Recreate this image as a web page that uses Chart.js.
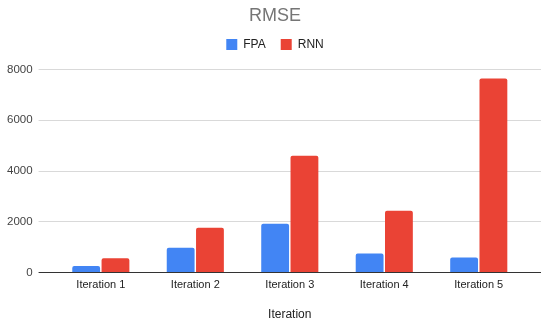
<!DOCTYPE html>
<html>
<head>
<meta charset="utf-8">
<script src="https://cdn.jsdelivr.net/npm/chart.js@4"></script>
<style>
  html, body { margin: 0; padding: 0; background: #fff; }
  #wrap { width: 550px; height: 326px; }
</style>
</head>
<body>
<div id="wrap"><canvas id="rmseChart"></canvas></div>
<script>
// Data
const iterations = ['Iteration 1', 'Iteration 2', 'Iteration 3', 'Iteration 4', 'Iteration 5'];
const fpaValues = [250, 970, 1920, 750, 590];
const rnnValues = [560, 1760, 4600, 2430, 7650];
const yTicks = [0, 2000, 4000, 6000, 8000];

const fontFamily = 'Arial, "Liberation Sans", sans-serif';
const gridColor = ctx => (ctx.tick && ctx.tick.value === 0) ? '#333333' : '#d9d9d9';

// push the plot area a little below the legend
const legendGap = {
    id: 'legendGap',
    beforeInit(chart) {
        const fit = chart.legend.fit;
        chart.legend.fit = function() {
            fit.bind(chart.legend)();
            this.height += 9;
        };
    }
};

const ctx = document.getElementById('rmseChart').getContext('2d');
new Chart(ctx, {
    type: 'bar',
    data: {
        labels: iterations,
        datasets: [{
            label: 'FPA',
            data: fpaValues,
            backgroundColor: '#4285f4',
            borderRadius: 2,
            borderSkipped: 'bottom',
            categoryPercentage: 0.62,
            barPercentage: 0.95
        }, {
            label: 'RNN',
            data: rnnValues,
            backgroundColor: '#ea4335',
            borderRadius: 2,
            borderSkipped: 'bottom',
            categoryPercentage: 0.62,
            barPercentage: 0.95
        }]
    },
    options: {
        responsive: true,
        maintainAspectRatio: false,
        animation: false,
        layout: { padding: { left: 5, right: 5, top: 3, bottom: 4 } },
        plugins: {
            title: {
                display: true,
                text: 'RMSE',
                color: '#757575',
                font: { family: fontFamily, size: 18, weight: 'normal' },
                padding: { top: 2, bottom: -3 }
            },
            legend: {
                position: 'top',
                labels: {
                    boxWidth: 11,
                    boxHeight: 11,
                    padding: 15,
                    color: '#222222',
                    font: { family: fontFamily, size: 12 }
                }
            },
            tooltip: { enabled: false }
        },
        scales: {
            x: {
                grid: { display: false, drawTicks: false },
                border: { display: false },
                ticks: {
                    color: '#222222',
                    padding: 6,
                    font: { family: fontFamily, size: 11 }
                },
                title: {
                    display: true,
                    text: 'Iteration',
                    color: '#222222',
                    padding: { top: 10, bottom: 0 },
                    font: { family: fontFamily, size: 12 }
                }
            },
            y: {
                min: 0,
                max: yTicks[yTicks.length - 1],
                afterBuildTicks: scale => { scale.ticks = yTicks.map(v => ({ value: v })); },
                afterFit: scale => { scale.width -= 4; },
                border: { display: false },
                grid: {
                    color: gridColor,
                    tickColor: gridColor,
                    drawTicks: true,
                    tickLength: 15
                },
                ticks: {
                    color: '#444444',
                    padding: 6,
                    callback: v => String(v),
                    font: { family: fontFamily, size: 11.5 }
                }
            },
            y2: {
                position: 'right',
                min: 0,
                max: yTicks[yTicks.length - 1],
                afterBuildTicks: scale => { scale.ticks = yTicks.map(v => ({ value: v })); },
                afterFit: scale => { scale.width += 4; },
                border: { display: false },
                grid: {
                    drawOnChartArea: false,
                    color: gridColor,
                    tickColor: gridColor,
                    drawTicks: true,
                    tickLength: 15
                },
                ticks: { display: false }
            }
        }
    },
    plugins: [legendGap]
});
</script>
</body>
</html>
